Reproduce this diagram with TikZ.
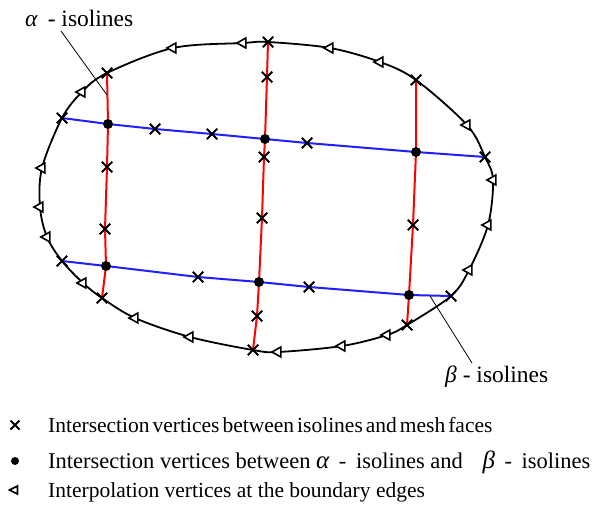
\documentclass[tikz,border=0pt]{standalone}
\usepackage{fontspec}
\setmainfont{Liberation Serif}
\usepackage{tikz}
\usetikzlibrary{shapes.geometric,shapes.misc,backgrounds}
\definecolor{aline}{HTML}{FF0000}
\definecolor{bline}{HTML}{1F1FFF}
\newcommand{\keyfont}{\fontsize{21.5}{25}\selectfont}
\newcommand{\tightfont}{\fontsize{21.5}{25}\selectfont\spaceskip 3pt plus 1pt\relax}
\newcommand{\widekeyfont}{\fontsize{22.5}{26}\selectfont}
\newcommand{\tagfont}{\fontsize{23.5}{27}\selectfont}
\newcommand{\gk}[1]{{\fontsize{25}{27}\selectfont\itshape #1}}
\tikzset{
  % markers: cross = isoline/face hit, dot = alpha/beta hit, triangle = boundary sample
  xv/.style   = {cross out, draw=black, line width=2pt, minimum size=8.5pt, inner sep=0pt},
  iv/.style   = {circle, fill=black, inner sep=0pt, minimum size=10pt},
  tv/.style   = {isosceles triangle, shape border rotate=180, isosceles triangle stretches,
                 draw=black, fill=white, line width=1.6pt, inner sep=0pt,
                 minimum height=9pt, minimum width=10pt},
  bnd/.style  = {line width=1.8pt, black},
  aiso/.style = {line width=2pt, aline},
  biso/.style = {line width=2pt, bline},
  lead/.style = {line width=0.8pt, black},
  tag/.style  = {font=\tagfont, inner sep=0pt, anchor=base west},
  key/.style  = {font=\keyfont, inner sep=0pt, anchor=base west},
}

\begin{document}
\begin{tikzpicture}[x=1pt,y=-1pt]
\useasboundingbox (0,0) rectangle (595,511);
% --- boundary samples ----------------------------------------------------
\node[tv] (t1)  at (243,43)  {};
\node[tv] (t2)  at (330,48)  {};
\node[tv] (t3)  at (380,62)  {};
\node[tv] (t4)  at (467,125) {};
\node[tv] (t5)  at (493,180) {};
\node[tv] (t6)  at (488,225) {};
\node[tv] (t7)  at (469,270) {};
\node[tv] (t8)  at (387,335) {};
\node[tv] (t9)  at (342,346) {};
\node[tv] (t10) at (278,352) {};
\node[tv] (t11) at (190,337) {};
\node[tv] (t12) at (135,318) {};
\node[tv] (t13) at (83,283)  {};
\node[tv] (t14) at (47,237)  {};
\node[tv] (t15) at (40,207)  {};
\node[tv] (t16) at (42,168)  {};
\node[tv] (t17) at (82,92)   {};
\node[tv] (t18) at (173,48)  {};
% --- isoline ends on the boundary ----------------------------------------
\node[xv] (a1t) at (107,73)  {};
\node[xv] (a1b) at (102,298) {};
\node[xv] (a2t) at (268,42)  {};
\node[xv] (a2b) at (253,350) {};
\node[xv] (a3t) at (416,80)  {};
\node[xv] (a3b) at (407,325) {};
\node[xv] (b1l) at (62,118)  {};
\node[xv] (b1r) at (485,157) {};
\node[xv] (b2l) at (62,261)  {};
\node[xv] (b2r) at (451,296) {};
% --- alpha/beta crossings ------------------------------------------------
\node[iv] (d11) at (108,124) {};
\node[iv] (d21) at (265,139) {};
\node[iv] (d31) at (416,152) {};
\node[iv] (d12) at (106,266) {};
\node[iv] (d22) at (259,282) {};
\node[iv] (d32) at (409,295) {};
% --- face crossings inside -----------------------------------------------
\node[xv] (c1)  at (107,167) {};
\node[xv] (c2)  at (105,229) {};
\node[xv] (c3)  at (267,77)  {};
\node[xv] (c4)  at (264,157) {};
\node[xv] (c5)  at (262,218) {};
\node[xv] (c6)  at (257,316) {};
\node[xv] (c7)  at (413,225) {};
\node[xv] (c8)  at (155,129) {};
\node[xv] (c9)  at (212,134) {};
\node[xv] (c10) at (307,143) {};
\node[xv] (c11) at (198,277) {};
\node[xv] (c12) at (309,287) {};
% --- curves under the markers --------------------------------------------
\begin{scope}[on background layer]
\draw[bnd] plot[smooth cycle, tension=0.55] coordinates {
  (t1.center) (a2t.center) (t2.center) (t3.center) (a3t.center) (t4.center)
  (b1r.center) (t5.center) (t6.center) (t7.center) (b2r.center) (a3b.center)
  (t8.center) (t9.center) (t10.center) (a2b.center) (t11.center) (t12.center)
  (a1b.center) (t13.center) (b2l.center) (t14.center) (t15.center) (t16.center)
  (b1l.center) (t17.center) (a1t.center) (t18.center)};
\draw[aiso] (a1t.center) -- (d11.center) -- (c1.center) -- (c2.center) -- (d12.center) -- (a1b.center);
\draw[aiso] (a2t.center) -- (c3.center) -- (d21.center) -- (c4.center) -- (c5.center)
            -- (d22.center) -- (c6.center) -- (a2b.center);
\draw[aiso] (a3t.center) -- (d31.center) -- (c7.center) -- (d32.center) -- (a3b.center);
\draw[biso] (b1l.center) -- (d11.center) -- (c8.center) -- (c9.center) -- (d21.center)
            -- (c10.center) -- (d31.center) -- (b1r.center);
\draw[biso] (b2l.center) -- (d12.center) -- (c11.center) -- (d22.center) -- (c12.center)
            -- (d32.center) -- (b2r.center);
\end{scope}
% --- labels with leaders -------------------------------------------------
\node[tag] (alab) at (25,27) {\textit{α}\hspace{4pt} - isolines};
\coordinate (aend) at (107,95);
\draw[lead] ([xshift=36pt,yshift=-4pt]alab.base west) -- (aend);
\node[tag] (blab) at (445,382) {\textit{β} - isolines};
\coordinate (bend) at (430,296);
\draw[lead] (bend) -- ([xshift=27pt,yshift=19pt]blab.base west);
% --- legend --------------------------------------------------------------
\node[xv, minimum size=7pt] (kx) at (15,425) {};
\node[key, font=\tightfont] (kxt) at (48,432) {Intersection vertices between isolines and mesh faces};
\node[iv, minimum size=8pt] (kd) at (15,461) {};
\node[key, font=\widekeyfont] (kdt) at (48,468) {Intersection vertices between
  \gk{α}\hspace{4pt} - \hspace{4pt}isolines and\hspace{14pt} \gk{β}\hspace{4pt} - \hspace{4pt}isolines};
\node[tv, minimum height=8pt, minimum width=8pt] (kt) at (15,490) {};
\node[key] (ktt) at (48,497) {Interpolation vertices at the boundary edges};
\end{tikzpicture}
\end{document}
